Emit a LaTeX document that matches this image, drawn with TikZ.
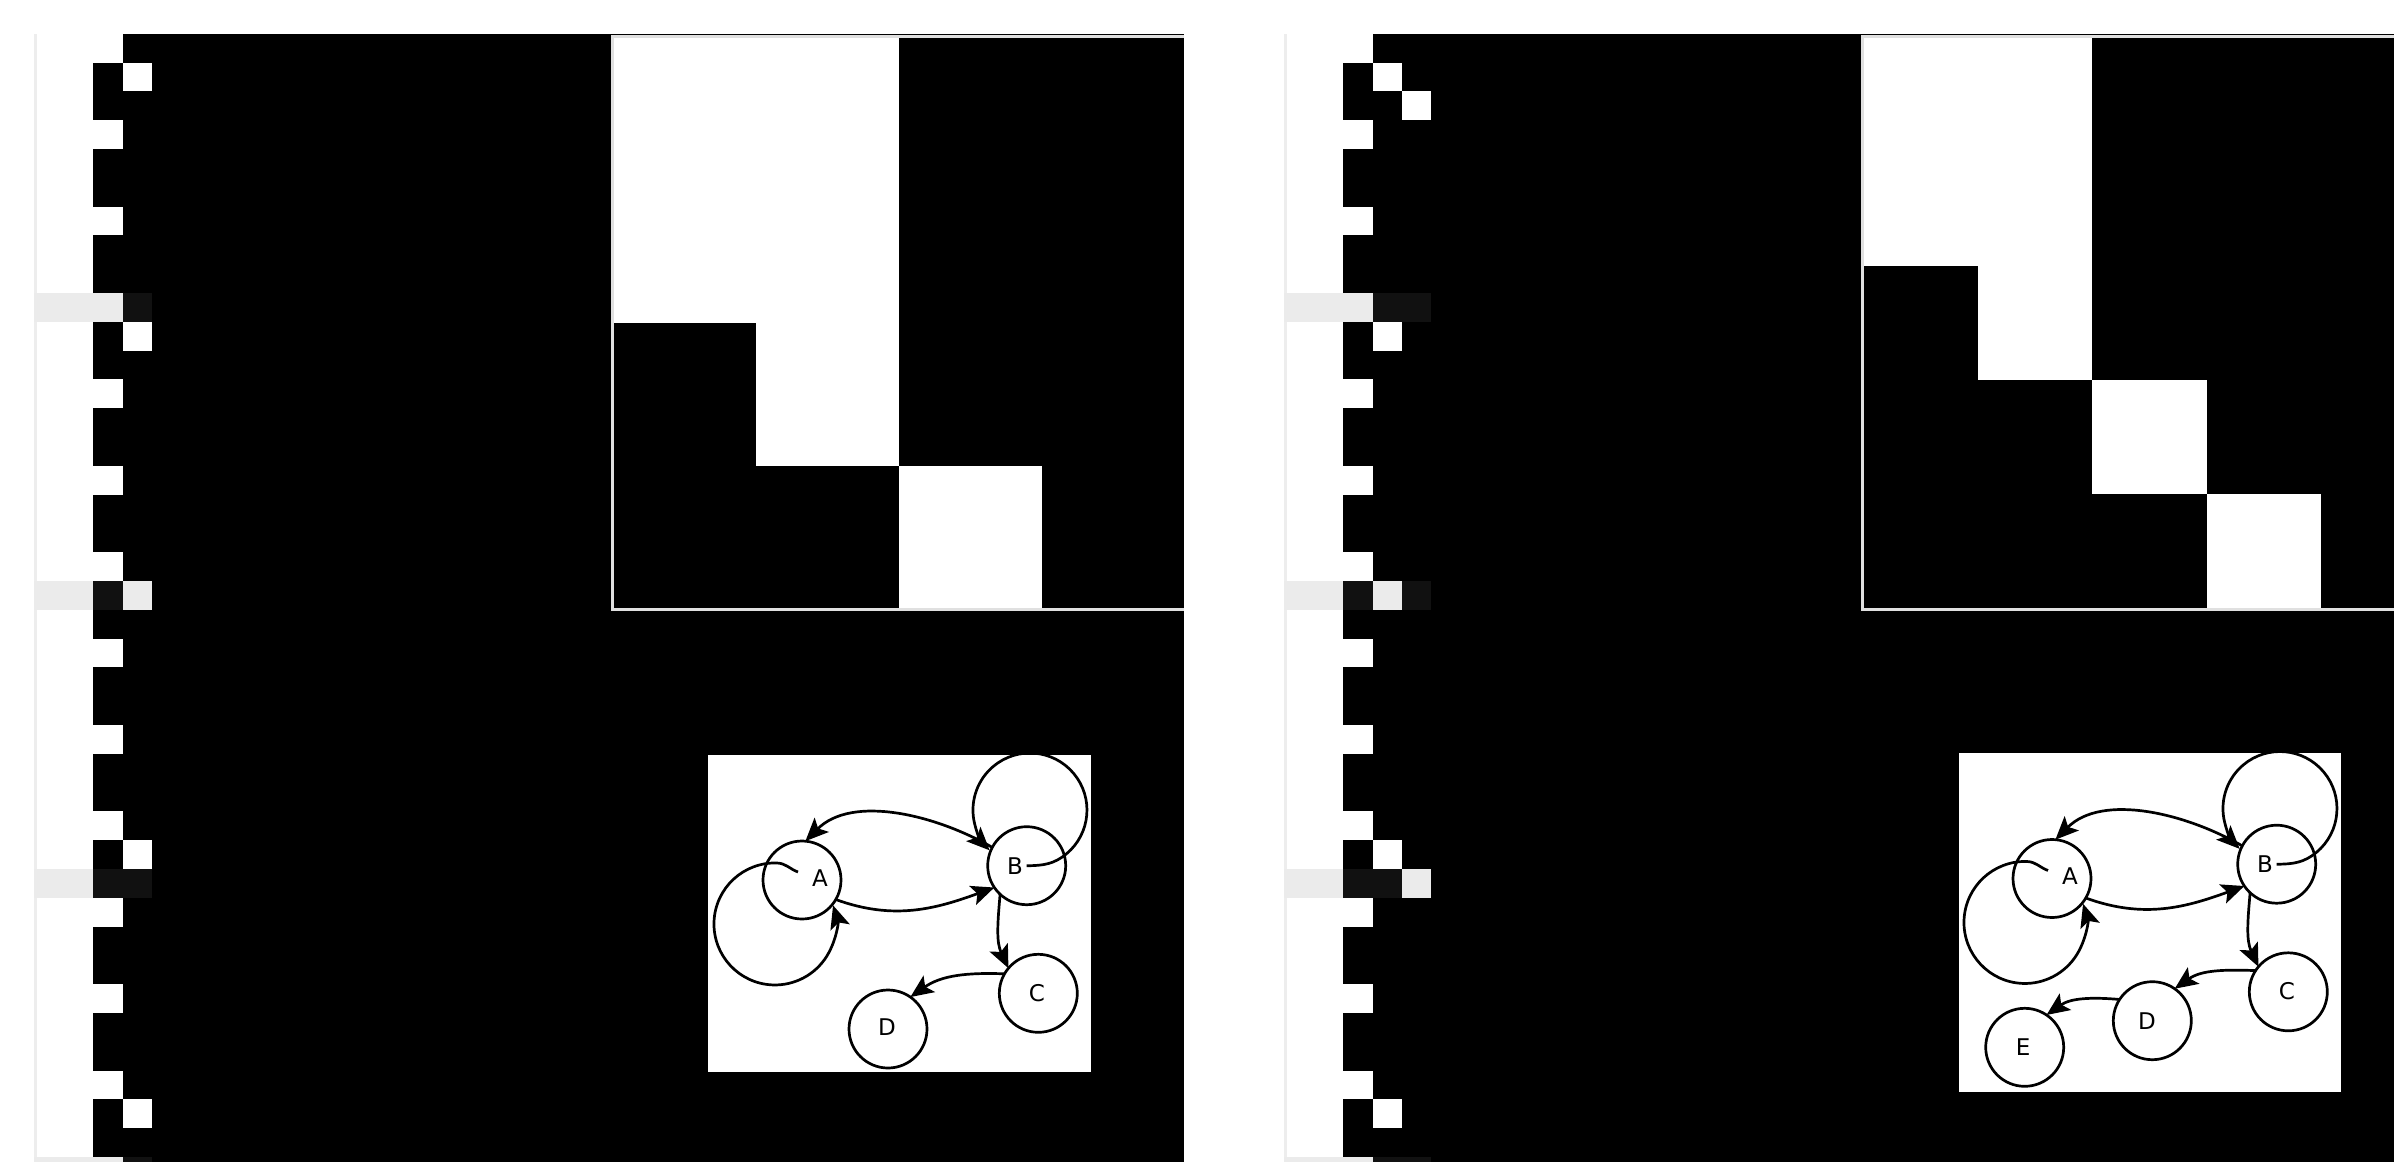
\documentclass[tikz,border=0pt]{standalone}
\usepackage{fontspec}
\setmainfont{DejaVu Sans}
\usetikzlibrary{arrows.meta}
\definecolor{hilight}{HTML}{EBEBEB}
\definecolor{hidark}{HTML}{111111}
\definecolor{vline}{HTML}{EDEDED}
\definecolor{mborder}{HTML}{E0E0E0}
\begin{document}
\begin{tikzpicture}[x=1pt,y=1pt,
  gnode/.style={circle,draw=black,line width=2.7pt,minimum size=78pt,inner sep=0pt,outer sep=0pt},
  glabel/.style={font=\fontsize{23}{27}\selectfont,inner sep=0pt,anchor=center},
  edge/.style={line width=2.7pt,-{Stealth[length=23pt,width=20pt,inset=5pt]}},
  frame/.style={draw=mborder,line width=2.6pt}]
\useasboundingbox (0,0) rectangle (2394,-1162);
\clip (0,0) rectangle (2394,-1162);
\fill[white] (0,0) rectangle (2394,-1162);
% ---- panels with the cell columns
\foreach \ox/\nc/\xr in {0/2/1184, 1250/3/2394}{
  \fill[vline] (\ox+34,-34) rectangle (\ox+36.7,-1162);
  \fill[black] (\ox+93.4,-33.8) rectangle (\xr,-1162);
  \foreach \r in {0,...,39}{
    \pgfmathsetmacro\yt{-33.8-\r*28.8}
    \pgfmathsetmacro\yb{\yt-28.8}
    \pgfmathtruncatemacro\hl{mod(\r,10)==9}
    \ifnum\hl=1
      \fill[hidark] (\ox+34,\yt) rectangle (\ox+93.4+\nc*29.2,\yb);
      \fill[hilight] (\ox+34,\yt) rectangle (\ox+93.4,\yb);
    \fi
    \foreach \k in {1,...,\nc}{
      \pgfmathtruncatemacro\w{mod(\r,3^\k)==(\k-1)}
      \ifnum\w=1
        \ifnum\hl=1 \def\cc{hilight}\else\def\cc{white}\fi
        \fill[\cc] (\ox+64.2+\k*29.2,\yt) rectangle (\ox+93.4+\k*29.2,\yb);
      \fi
    }
  }
}
% ---- left matrix
\foreach \r/\c in {0/0,0/1,1/0,1/1,2/1,3/2}
  \fill[white] (613.5+\c*142.75,-37.3-\r*142.75) rectangle ++(142.75,-142.75);
\draw[frame] (1184,-36.3) -- (612.2,-36.3) -- (612.2,-609.6) -- (1184,-609.6);
% ---- right matrix
\foreach \r/\c in {0/0,0/1,1/0,1/1,2/1,3/2,4/3}
  \fill[white] (1864+\c*114.2,-37.3-\r*114.2) rectangle ++(114.2,-114.2);
\draw[frame] (2394,-36.3) -- (1862.7,-36.3) -- (1862.7,-609.6) -- (2394,-609.6);
% ---- graph boxes
\fill[white] (708,-755) rectangle (1091,-1072);
\fill[white] (1958.5,-753) rectangle (2341,-1092);
% ---- left graph
\node[gnode] (A) at (802,-880) {};
\node[gnode] (B) at (1026.7,-865.7) {};
\node[gnode] (C) at (1038.3,-993.3) {};
\node[gnode] (D) at (888,-1029) {};
\node[glabel] (Al) at (820,-878) {A};
\node[glabel] (Bl) at (1015,-866) {B};
\node[glabel] (Cl) at (1037,-993) {C};
\node[glabel] (Dl) at (887,-1027) {D};
\draw[edge] (A.-30) to[out=-20,in=200] (B.214);
\draw[edge] (B.152) to[out=150,in=45,looseness=0.9] (A.85);
\draw[edge] ([shift={(-4,8)}]A.center) to[out=160,in=-2] ([shift={(-24.9,17)}]A.center) arc[start angle=88,end angle=377.8,radius=61];
\draw[edge] (B.center) to[out=0,in=220] ([shift={(39.9,12)}]B.center) arc[start angle=-50,end angle=225,radius=57];
\draw[edge] (B.227) to[out=-95,in=115] (C.140);
\draw[edge] (C.150) to[out=178,in=35] (D.55);
% ---- right graph
\begin{scope}[shift={(1250,1.5)}]
\node[gnode] (rA) at (802,-880) {};
\node[gnode] (rB) at (1026.7,-865.7) {};
\node[gnode] (rC) at (1038.3,-993.3) {};
\node[gnode] (rD) at (902.3,-1022.2) {};
\node[gnode] (rE) at (774.7,-1048.8) {};
\node[glabel] (rAl) at (820,-878) {A};
\node[glabel] (rBl) at (1015,-866) {B};
\node[glabel] (rCl) at (1037,-993) {C};
\node[glabel] (rDl) at (897,-1022.5) {D};
\node[glabel] (rEl) at (773,-1048.5) {E};
\draw[edge] (rA.-30) to[out=-20,in=200] (rB.214);
\draw[edge] (rB.152) to[out=150,in=45,looseness=0.9] (rA.85);
\draw[edge] ([shift={(-4,8)}]rA.center) to[out=160,in=-2] ([shift={(-24.9,17)}]rA.center) arc[start angle=88,end angle=377.8,radius=61];
\draw[edge] (rB.center) to[out=0,in=220] ([shift={(39.9,12)}]rB.center) arc[start angle=-50,end angle=225,radius=57];
\draw[edge] (rB.227) to[out=-95,in=115] (rC.140);
\draw[edge] (rC.147) to[out=178,in=35] (rD.55);
\draw[edge] (rD.147) to[out=175,in=35] (rE.56);
\end{scope}
\end{tikzpicture}
\end{document}
